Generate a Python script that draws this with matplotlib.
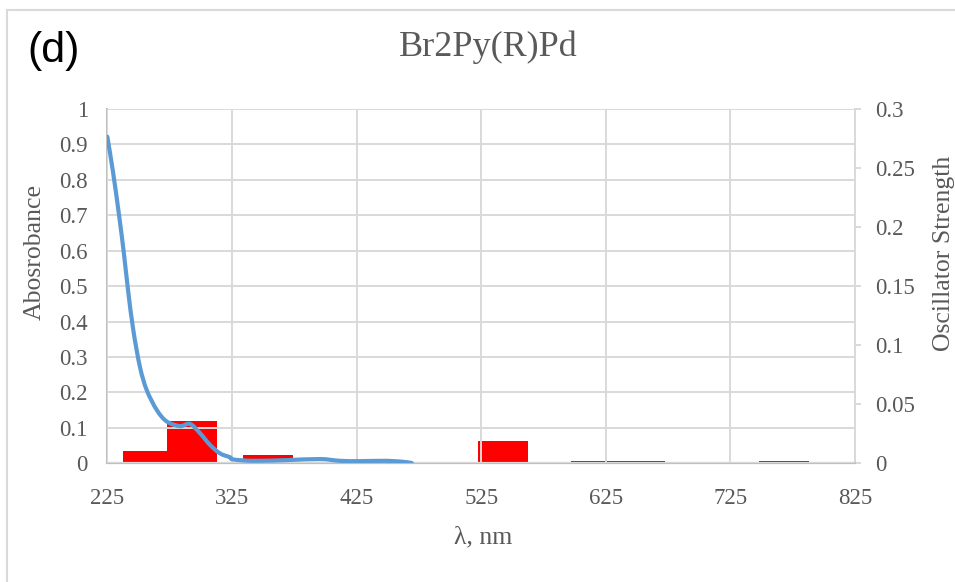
import matplotlib
matplotlib.use("Agg")
import matplotlib.pyplot as plt
from matplotlib.lines import Line2D
from matplotlib.path import Path
from matplotlib.patches import PathPatch

# Absorbance spectrum (wavelength in nm, absorbance)
wavelength = [225.0, 229.6, 234.4, 238.4, 241.6, 245.9, 251.2, 256.6, 264.6,
              272.7, 283.3, 291.4, 299.4, 307.4, 315.4, 323.5, 325.9, 341.9,
              369.2, 395.7, 411.7, 427.8, 449.4, 465.5, 469.5]
absorbance = [0.922, 0.822, 0.701, 0.590, 0.490, 0.375, 0.272, 0.207, 0.151,
              0.118, 0.105, 0.111, 0.085, 0.052, 0.028, 0.017, 0.011, 0.007,
              0.009, 0.012, 0.007, 0.006, 0.007, 0.003, 0.0]

# Calculated transitions (bar centre in nm, oscillator strength)
transition_nm = [257.4, 293.1, 353.9, 542.3, 617.1, 652.5, 695.0, 768.1]
osc_strength = [0.0103, 0.0358, 0.0070, 0.0189, 0.0020, 0.0020, 0.0011, 0.0020]
bar_width_nm = 40

x_ticks = [225, 325, 425, 525, 625, 725, 825]
left_ticks = [0, 0.1, 0.2, 0.3, 0.4, 0.5, 0.6, 0.7, 0.8, 0.9, 1]
right_ticks = [0, 0.05, 0.1, 0.15, 0.2, 0.25, 0.3]

TEXT = "#595959"
GRID = "#d9d9d9"
AXIS = "#bfbfbf"
SERIF = "Liberation Serif"


def smooth_path(xs, ys, tension=1.0):
    """Cubic Bezier path through the points (smoothed-line style)."""
    n = len(xs)
    verts = [(xs[0], ys[0])]
    codes = [Path.MOVETO]
    for i in range(n - 1):
        x0, y0 = xs[max(i - 1, 0)], ys[max(i - 1, 0)]
        x1, y1 = xs[i], ys[i]
        x2, y2 = xs[i + 1], ys[i + 1]
        x3, y3 = xs[min(i + 2, n - 1)], ys[min(i + 2, n - 1)]
        c1 = (x1 + (x2 - x0) / 6 * tension, y1 + (y2 - y0) / 6 * tension)
        c2 = (x2 - (x3 - x1) / 6 * tension, y2 - (y3 - y1) / 6 * tension)
        verts += [c1, c2, (x2, y2)]
        codes += [Path.CURVE4] * 3
    return Path(verts, codes)


fig = plt.figure(figsize=(9.55, 5.82), dpi=100)
W, H = 955, 582
ax = fig.add_axes([107.3 / W, (H - 463.3) / H, (855 - 107.3) / W, (463.3 - 109) / H])
ax2 = ax.twinx()

# bars live on the secondary axis, underneath the grid and the curve
ax.set_zorder(ax2.get_zorder() + 1)
ax.patch.set_visible(False)

ax2.bar(transition_nm, osc_strength, width=bar_width_nm, color="#ff0000",
        align="center", linewidth=0)
ax2.set_ylim(0, 0.3)
ax2.set_yticks(right_ticks)
ax2.set_yticklabels([f"{v:g}" for v in right_ticks])

ax.add_patch(PathPatch(smooth_path(wavelength, absorbance), facecolor="none",
                       edgecolor="#5b9bd5", linewidth=3.0, capstyle="round",
                       joinstyle="round", zorder=3))
ax.set_xlim(225, 825)
ax.set_ylim(0, 1)
ax.set_xticks(x_ticks)
ax.set_yticks(left_ticks)
ax.set_yticklabels([f"{v:g}" for v in left_ticks])
ax.grid(True, color=GRID, linewidth=1.4, zorder=1)
ax.set_axisbelow(False)

for a in (ax, ax2):
    for s in a.spines.values():
        s.set_visible(False)

ax.spines["left"].set_visible(True)
ax.spines["left"].set_color(AXIS)
ax.spines["left"].set_linewidth(1.4)
ax.spines["bottom"].set_visible(True)
ax.spines["bottom"].set_color(AXIS)
ax.spines["bottom"].set_linewidth(1.6)
ax2.spines["right"].set_visible(True)
ax2.spines["right"].set_color(GRID)
ax2.spines["right"].set_linewidth(1.4)

ax.tick_params(axis="both", length=0, labelcolor=TEXT, labelsize=16.5)
ax.tick_params(axis="y", pad=14)
ax.tick_params(axis="x", pad=18)
ax2.tick_params(axis="y", length=4.3, width=1.4, color=GRID, labelcolor=TEXT,
                labelsize=16.5, pad=10)
for lbl in ax.get_xticklabels() + ax.get_yticklabels() + ax2.get_yticklabels():
    lbl.set_fontfamily(SERIF)

fig.text(35 / W, 1 - 252 / H, "Abosrobance", rotation=90, ha="center", va="center",
         family=SERIF, fontsize=18.5, color=TEXT)
fig.text(944 / W, 1 - 253 / H, "Oscillator Strength", rotation=90, ha="center",
         va="center", family=SERIF, fontsize=18.5, color=TEXT)
fig.text(483 / W, 1 - 537 / H, "λ, nm", ha="center", va="center",
         family=SERIF, fontsize=18.5, color=TEXT)
fig.text(488 / W, 1 - 47 / H, "Br2Py(R)Pd", ha="center", va="center",
         family=SERIF, fontsize=26, color=TEXT)
fig.text(27 / W, 1 - 51 / H, "(d)", ha="left", va="center",
         family="Liberation Sans", fontsize=31, color="black")

# outer chart frame
fig.add_artist(Line2D([7 / W, 7 / W], [0, 1 - 10 / H], transform=fig.transFigure,
                      color=GRID, linewidth=1.5))
fig.add_artist(Line2D([7 / W, 1], [1 - 10 / H, 1 - 10 / H], transform=fig.transFigure,
                      color=GRID, linewidth=1.5))

fig.savefig("out.png", dpi=100)
